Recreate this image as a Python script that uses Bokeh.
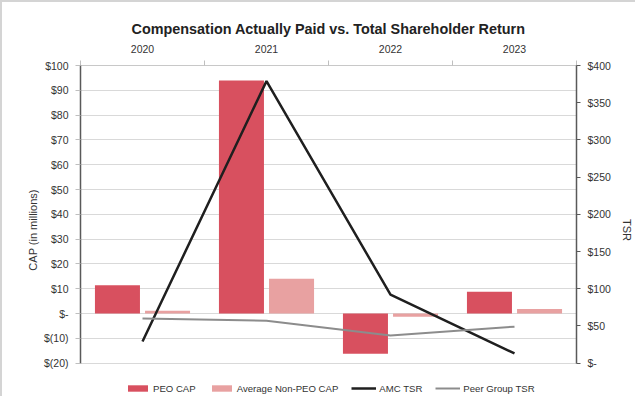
from bokeh.plotting import figure
from bokeh.models import (Range1d, LinearAxis, FixedTicker, Legend, LegendItem)
from bokeh.embed import file_html
from bokeh.resources import INLINE

years = ["2020", "2021", "2022", "2023"]
peo_cap = [11.4, 94.0, -16.2, 8.8]
non_peo_cap = [1.1, 14.0, -1.3, 1.8]
amc_tsr = [29, 379, 92, 13]
peer_tsr = [60, 57, 37, 49]

cap_ticks = list(range(-20, 101, 10))
tsr_ticks = list(range(0, 401, 50))


def money(v):
    if v == 0:
        return "$-"
    if v < 0:
        return "$(%d)" % (-v)
    return "$%d" % v


FONT = "Liberation Sans"
GRID = "#d9d9d9"
TXT = "#333333"
TICK_FS = "10.5px"

xc = [i + 0.5 for i in range(len(years))]
bw = 0.363
off = 0.202

# frame extends below the $(20) line to hold the legend
CAP_LO = -32.66
TSR_LO = (CAP_LO + 20) * 400 / 120

p = figure(frame_width=496, frame_height=329, output_backend="svg", toolbar_location=None,
           x_range=Range1d(0, len(years)), y_range=Range1d(CAP_LO, 100),
           x_axis_location=None, y_axis_location=None,
           min_border_left=78, min_border_right=52, min_border_top=63,
           min_border_bottom=2)
p.outline_line_color = None
p.extra_y_ranges = {"tsr": Range1d(TSR_LO, 400)}
p.styles = {"border-left": "2px solid #d4d4d4", "border-top": "2px solid #d4d4d4"}

p.title.text = "Compensation Actually Paid vs. Total Shareholder Return"
p.title.align = "center"
p.title.text_font = FONT
p.title.text_font_size = "14.4px"
p.title.text_font_style = "bold"
p.title.text_color = "#222222"

# top category axis
xa = LinearAxis(ticker=FixedTicker(ticks=xc, minor_ticks=list(range(len(years) + 1))))
xa.major_label_overrides = {x: y for x, y in zip(xc, years)}
xa.major_tick_line_color = None
xa.major_tick_out = 9
xa.major_tick_in = 0
xa.minor_tick_out = 5
xa.minor_tick_in = 0
xa.minor_tick_line_color = "#bfbfbf"
xa.axis_line_color = "#c8c8c8"
xa.major_label_standoff = 4
xa.major_label_text_font = FONT
xa.major_label_text_font_size = TICK_FS
xa.major_label_text_color = TXT
p.add_layout(xa, "above")

# left axis
ya = LinearAxis(ticker=FixedTicker(ticks=cap_ticks, minor_ticks=[]), bounds=(-20, 100))
ya.major_label_overrides = {t: money(t) for t in cap_ticks}
ya.axis_label = "CAP (in millions)"
ya.axis_label_text_font = FONT
ya.axis_label_text_font_size = "11px"
ya.axis_label_text_font_style = "normal"
ya.axis_label_text_color = TXT
ya.axis_label_standoff = 2
ya.major_label_text_font = FONT
ya.major_label_text_font_size = TICK_FS
ya.major_label_text_color = TXT
ya.major_label_standoff = 7
ya.major_tick_out = 5
ya.major_tick_in = 0
ya.major_tick_line_color = "#bfbfbf"
ya.axis_line_color = "#595959"
ya.axis_line_width = 1.5
p.add_layout(ya, "left")

# right axis
ra = LinearAxis(y_range_name="tsr", ticker=FixedTicker(ticks=tsr_ticks, minor_ticks=[]),
                bounds=(0, 400))
ra.major_label_overrides = {t: money(t) for t in tsr_ticks}
ra.axis_label = "TSR"
ra.axis_label_text_font = FONT
ra.axis_label_text_font_size = "11px"
ra.axis_label_text_font_style = "normal"
ra.axis_label_text_color = TXT
ra.axis_label_standoff = 7
ra.major_label_text_font = FONT
ra.major_label_text_font_size = TICK_FS
ra.major_label_text_color = TXT
ra.major_label_standoff = 7
ra.major_tick_out = 4
ra.major_tick_in = 0
ra.major_tick_line_color = "#595959"
ra.axis_line_color = "#595959"
ra.axis_line_width = 1.5
p.add_layout(ra, "right")

p.ygrid.ticker = FixedTicker(ticks=cap_ticks)
p.ygrid.grid_line_color = GRID
p.xgrid.grid_line_color = None

r1 = p.vbar(x=[x - off for x in xc], top=peo_cap, bottom=0, width=bw,
            fill_color="#d8505f", line_color=None)
r2 = p.vbar(x=[x + off for x in xc], top=non_peo_cap, bottom=0, width=bw,
            fill_color="#e8a1a1", line_color=None)
r3 = p.line(x=xc, y=amc_tsr, y_range_name="tsr", line_color="#1f1f1f", line_width=2.5)
r4 = p.line(x=xc, y=peer_tsr, y_range_name="tsr", line_color="#8c8c8c", line_width=2)

legend = Legend(items=[
    LegendItem(label="PEO CAP", renderers=[r1]),
    LegendItem(label="Average Non-PEO CAP", renderers=[r2]),
    LegendItem(label="AMC TSR", renderers=[r3]),
    LegendItem(label="Peer Group TSR", renderers=[r4]),
], orientation="horizontal", location=(45, 0))
legend.border_line_color = None
legend.background_fill_alpha = 0
legend.label_text_font = FONT
legend.label_text_font_size = "9.6px"
legend.label_text_color = TXT
legend.glyph_width = 25
legend.glyph_height = 8
legend.label_standoff = 3
legend.spacing = 13
legend.padding = 0
legend.margin = 0
legend.label_height = 12
p.add_layout(legend, "center")

open("out.html", "w").write(file_html(p, INLINE))
